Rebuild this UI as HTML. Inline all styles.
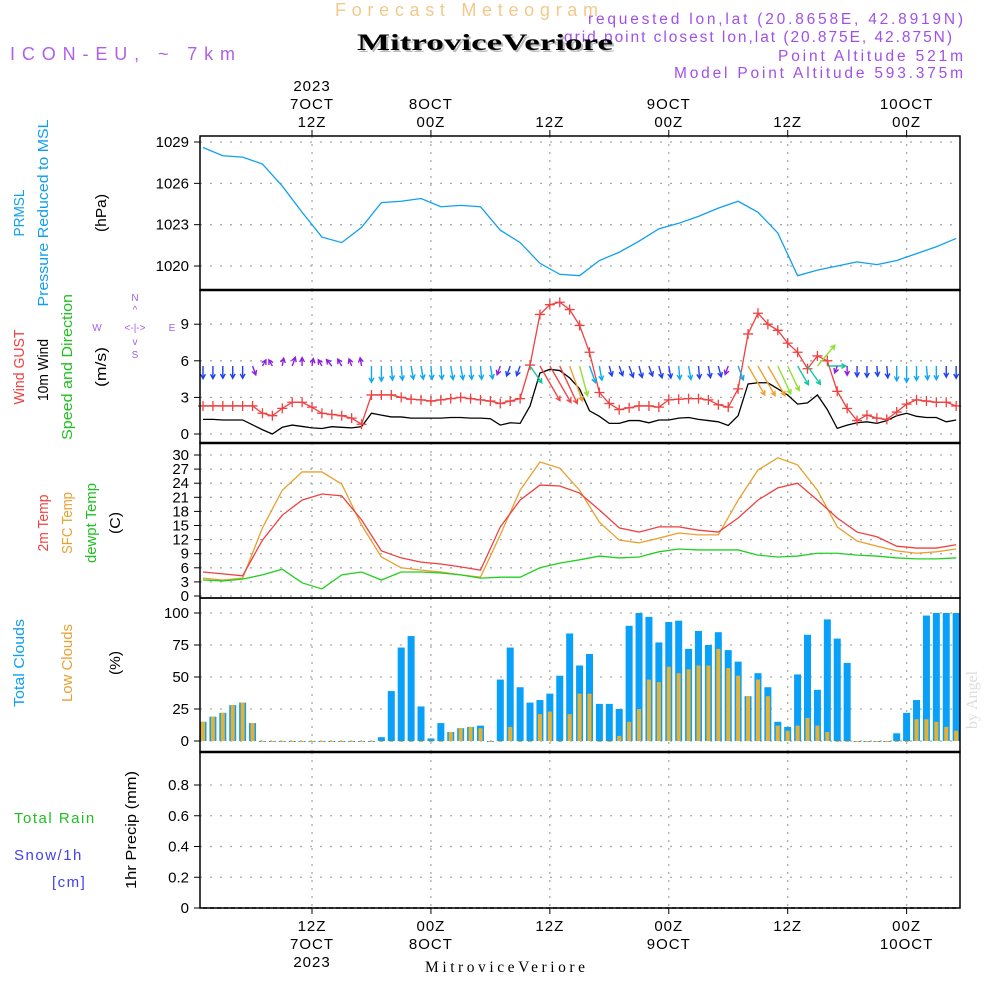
<!DOCTYPE html>
<html><head><meta charset="utf-8"><style>
body{margin:0;background:#fff}
svg{display:block;font-family:"Liberation Sans",sans-serif}
</style></head><body>
<svg id="chart" width="1000" height="1000" viewBox="0 0 1000 1000" xmlns="http://www.w3.org/2000/svg">
<rect width="1000" height="1000" fill="#fff"/>
<text x="335" y="16" textLength="263" lengthAdjust="spacing" font-size="18" fill="#f3c98a">Forecast Meteogram</text>
<text x="952" y="42" text-anchor="end" textLength="388" lengthAdjust="spacing" font-size="15.5" fill="#a050e8">grid point closest lon,lat (20.875E, 42.875N)</text>
<text x="357" y="50" textLength="256" lengthAdjust="spacingAndGlyphs" font-size="23" font-weight="bold" font-family="Liberation Serif,serif" fill="#bbb" transform="translate(2,2)">MitroviceVeriore</text>
<text x="357" y="50" textLength="256" lengthAdjust="spacingAndGlyphs" font-size="23" font-weight="bold" font-family="Liberation Serif,serif" fill="#000">MitroviceVeriore</text>
<text x="963" y="24" text-anchor="end" textLength="375" lengthAdjust="spacing" font-size="15.5" fill="#a050e8">requested lon,lat (20.8658E, 42.8919N)</text>
<text x="963" y="61" text-anchor="end" textLength="185" lengthAdjust="spacing" font-size="15.5" fill="#a050e8">Point Altitude 521m</text>
<text x="963" y="78" text-anchor="end" textLength="289" lengthAdjust="spacing" font-size="15.5" fill="#a050e8">Model Point Altitude 593.375m</text>
<text x="10" y="60" textLength="225" lengthAdjust="spacing" font-size="18" fill="#b060e8">ICON-EU, ~ 7km</text>
<text x="977" y="700" font-size="16" fill="#ddd" font-family="Liberation Serif,serif" transform="rotate(-90 977 700)" text-anchor="middle">by Angel</text>
<g id="grid"></g><g id="marks"></g><g id="frames"></g><g id="labels"></g>
</svg>
<script>
const hours = Array.from({length:77},(_,i)=>i);
const hours2 = Array.from({length:39},(_,i)=>i*2);
const pressure = [1028.6,1028.0,1027.9,1027.4,1025.8,1023.9,1022.1,1021.7,1022.8,1024.6,1024.7,1024.9,1024.3,1024.4,1024.3,1022.6,1021.7,1020.2,1019.4,1019.3,1020.4,1021.0,1021.8,1022.7,1023.1,1023.6,1024.2,1024.7,1023.9,1022.4,1019.3,1019.7,1020.0,1020.3,1020.1,1020.4,1020.9,1021.4,1022.0];
const gust = [2.3,2.3,2.3,2.3,2.3,2.3,1.7,1.5,2.1,2.6,2.6,2.2,1.7,1.6,1.5,1.3,0.8,3.2,3.2,3.2,3.0,2.85,2.8,2.7,2.8,2.9,3.0,2.9,2.8,2.7,2.5,2.7,2.9,5.65,9.8,10.6,10.8,10.2,8.9,6.7,3.4,2.5,2.0,2.15,2.3,2.3,2.2,2.8,2.85,2.9,2.9,2.8,2.4,2.2,3.7,8.2,9.9,9.0,8.5,7.45,6.7,5.35,6.4,6.0,3.5,2.1,1.1,1.55,1.3,1.2,1.8,2.45,2.8,2.7,2.6,2.6,2.3];
const wind = [1.2,1.2,1.15,1.15,1.15,0.75,0.35,0.0,0.55,0.73,0.62,0.5,0.45,0.6,0.55,0.5,0.6,1.7,1.55,1.4,1.4,1.3,1.3,1.3,1.3,1.35,1.35,1.3,1.3,1.25,0.73,0.92,0.87,2.3,5.0,5.3,5.2,4.6,3.7,1.9,1.45,0.87,0.87,1.1,1.1,0.92,1.15,1.15,1.3,1.35,1.2,1.1,1.0,0.7,1.5,4.1,4.2,4.2,3.7,3.2,2.45,2.55,3.2,2.0,0.46,0.73,0.92,1.0,0.87,1.1,1.5,1.7,1.45,1.35,1.35,1.0,1.15];
const windDir = [180,180,180,180,180,160,30,330,10,20,0,10,330,320,330,340,350,180,180,175,175,170,170,175,175,170,170,175,175,170,200,200,200,145,150,150,155,160,165,160,170,165,160,160,165,160,165,170,175,170,175,170,165,200,160,150,150,150,155,155,150,145,40,90,200,180,180,180,175,175,180,180,180,175,180,180,180];
const temp2m = [5.1,4.7,4.3,11.9,17.2,20.4,21.7,21.3,16.2,9.6,8.1,7.2,6.8,6.2,5.5,14.7,20.4,23.6,23.4,21.9,18.3,14.5,13.6,14.7,14.7,14.0,13.6,16.6,20.4,23.0,24.0,20.4,16.6,13.6,12.6,10.6,10.2,10.2,10.9];
const tempSfc = [3.8,3.4,3.8,14.5,22.5,26.4,26.4,23.8,15.1,8.3,6.0,5.5,5.1,4.5,4.0,13.0,22.5,28.5,27.2,22.5,15.7,11.9,11.3,12.3,13.4,13.0,13.0,20.4,26.8,29.4,27.9,22.5,14.7,11.7,10.6,9.6,9.1,9.4,10.0];
const dewpt = [3.4,3.2,3.6,4.5,5.7,2.8,1.5,4.5,5.1,3.4,5.1,5.1,4.9,4.5,3.8,4.0,4.0,6.0,7.0,7.7,8.5,8.1,8.3,9.4,10.0,9.8,9.8,9.8,8.7,8.3,8.5,9.1,9.1,8.7,8.5,8.1,7.9,7.9,8.1];
const totalClouds = [15,19,22,28,30,14,0,0,0,0,0,0,0,0,0,0,0,0,3,39,73,82,27,2,14,7,10,11,12,0,48,73,42,30,32,37,51,84,59,68,29,29,25,90,100,97,77,93,94,72,86,75,85,71,62,35,53,42,15,11,52,83,40,95,80,61,0,0,0,0,6,22,32,98,100,100,100];
const lowClouds = [15,19,22,28,30,14,0,0,0,0,0,0,0,0,0,0,0,0,0,0,0,0,0,0,0,7,10,11,10,0,0,11,0,0,21,23,0,21,37,37,0,0,4,15,25,48,46,58,53,56,59,59,72,57,51,35,48,35,12,8,12,18,12,7,0,0,0,0,0,0,0,0,17,17,15,11,8];
const precip = hours.map(()=>0);
const presTicks = [1020,1023,1026,1029];
const windTicks = [0,3,6,9];
const tempTicks = [0,3,6,9,12,15,18,21,24,27,30];
const cloudTicks = [0,25,50,75,100];
const rainTicks = [0,0.2,0.4,0.6,0.8];
const timeTicks = [11,23,35,47,59,71];
const topLabels = [["2023","7OCT","12Z"],["","8OCT","00Z"],["","","12Z"],["","9OCT","00Z"],["","","12Z"],["","10OCT","00Z"]];
const botLabels = [["12Z","7OCT","2023"],["00Z","8OCT",""],["12Z","",""],["00Z","9OCT",""],["12Z","",""],["00Z","10OCT",""]];

const NS="http://www.w3.org/2000/svg";
const X = h => 203 + 9.91*h;
const yP = v => 142 + (1029-v)*13.78;
const yW = v => 434 - v*12.2;
const yT = v => 596 - v*4.7;
const yC = v => 741 - v*1.28;
const yR = v => 908 - v*153.75;
const L=200,R=960;
const panels=[[136,290],[290,443],[443,598],[598,752],[752,908]];
function el(tag,attrs,parent,txt){const e=document.createElementNS(NS,tag);for(const k in attrs)e.setAttribute(k,attrs[k]);if(txt!==undefined)e.textContent=txt;parent.appendChild(e);return e;}
const G=document.getElementById('grid'),M=document.getElementById('marks'),F=document.getElementById('frames'),Lb=document.getElementById('labels');

panels.forEach(p=>{timeTicks.forEach(h=>{const g=el('line',{x1:X(h),x2:X(h),y1:p[0],y2:p[1],stroke:'#aaa','stroke-width':1.3,'stroke-dasharray':'2,6'},G);

});});
function yaxis(ticks,fy,fmt,name){ticks.forEach(t=>{const y=fy(t);
const g=el('line',{x1:L,x2:R,y1:y,y2:y,stroke:'#aaa','stroke-width':1.3,'stroke-dasharray':'2,8'},G);


el('line',{x1:L-6,x2:L,y1:y,y2:y,stroke:'#000'},F);
const tx=el('text',{x:189,y:y+5,'text-anchor':'end','font-size':15,fill:'#000'},Lb,fmt(t));

});}
yaxis(presTicks,yP,t=>t,'pressure');
yaxis(windTicks,yW,t=>t,'wind');
yaxis(tempTicks,yT,t=>t,'temp');
yaxis(cloudTicks,yC,t=>t,'cloud');
yaxis(rainTicks,yR,t=>t===0?'0':t.toFixed(1),'rain');

function line(xs,ys,color,name,w){const pts=xs.map((x,i)=>x+','+ys[i]).join(' ');const p=el('polyline',{points:pts,fill:'none',stroke:color,'stroke-width':w||1.3},M);

return p;}
line(hours2.map(X),pressure.map(yP),'#10a0f0','pressure-line');
line(hours.map(X),wind.map(yW),'#000','wind-speed-line');
line(hours.map(X),gust.map(yW),'#f04040','wind-gust-line');
gust.forEach((v,i)=>{const x=X(hours[i]),y=yW(v);
const c=el('path',{d:`M${x-5},${y}H${x+5}M${x},${y-5}V${y+5}`,stroke:'#f04040','stroke-width':1.3},M);

});
function wcol(s){return s<0.8?'#9020e0':s<1.25?'#2040f0':s<2?'#10a8f0':s<3?'#10c8a0':s<4?'#90e030':s<5?'#f0a030':'#f04848';}
wind.forEach((s,i)=>{const x=X(hours[i]),y0=366,len=Math.max(7,4+7.2*s),a=windDir[i]*Math.PI/180;
const dx=len*Math.sin(a),dy=-len*Math.cos(a),x1=x+dx,y1=y0+dy;const c=wcol(s);
const ang=Math.atan2(dy,dx),hl=5;
const d=`M${x},${y0}L${x1},${y1}M${x1-hl*Math.cos(ang-0.5)},${y1-hl*Math.sin(ang-0.5)}L${x1},${y1}L${x1-hl*Math.cos(ang+0.5)},${y1-hl*Math.sin(ang+0.5)}`;
const p=el('path',{d:d,stroke:c,'stroke-width':1.4,fill:'none'},M);

});
line(hours2.map(X),tempSfc.map(yT),'#e8a030','sfc-temp-line');
line(hours2.map(X),temp2m.map(yT),'#f04040','2m-temp-line');
line(hours2.map(X),dewpt.map(yT),'#20d020','dewpt-line');
totalClouds.forEach((v,i)=>{const x=X(hours[i]);
const b=el('rect',{x:x-3.5,y:yC(v),width:7,height:Math.max(1,yC(0)-yC(v)),fill:'#08a0f8'},M);


const lv=lowClouds[i];const o=el('rect',{x:x-2,y:yC(lv),width:4,height:Math.max(1,yC(0)-yC(lv)),fill:'#e8b030'},M);

});
const pl=line(hours.map(X),precip.map(yR),'#000','precip-line',1.5);pl.setAttribute('stroke-dasharray','4,3');

panels.forEach((p,i)=>{const r=el('rect',{x:L,y:p[0],width:R-L,height:p[1]-p[0],fill:'none',stroke:'#000','stroke-width':1.5},F);

});
[290,443,752].forEach(y=>el('line',{x1:L,x2:R,y1:y,y2:y,stroke:'#000','stroke-width':2.5},F));
timeTicks.forEach((h,i)=>{const x=X(h);el('line',{x1:x,x2:x,y1:130,y2:136,stroke:'#000'},F);el('line',{x1:x,x2:x,y1:908,y2:914,stroke:'#000'},F);
topLabels[i].forEach((s,j)=>{if(s){const t=el('text',{x:x,y:91+j*18,'text-anchor':'middle','font-size':15,fill:'#000','letter-spacing':1},Lb,s);

}});
botLabels[i].forEach((s,j)=>{if(s){const t=el('text',{x:x,y:931+j*18,'text-anchor':'middle','font-size':15,fill:'#000','letter-spacing':1},Lb,s);

}});});
const ft=el('text',{x:425,y:972,'font-size':15.5,fill:'#000','font-family':'Liberation Serif,serif',textLength:160,lengthAdjust:'spacing'},Lb,'MitroviceVeriore');



function vlab(x,cy,s,col,len,name){const t=el('text',{x:x,y:cy,'text-anchor':'middle','font-size':15,fill:col,transform:`rotate(-90 ${x} ${cy})`},Lb,s);
if(len){t.setAttribute('textLength',len);t.setAttribute('lengthAdjust','spacingAndGlyphs');}

}
vlab(24,213,'PRMSL','#10a0f0',47,'prmsl-label');
vlab(48,213,'Pressure Reduced to MSL','#10a0f0',187,'pressure-label');
vlab(106,213,'(hPa)','#000',38,'hpa-unit');
vlab(24,367,'Wind GUST','#f04040',75,'gust-label');
vlab(48,370,'10m Wind','#000',62,'wind-label');
vlab(72,367,'Speed and Direction','#20c020',146,'speed-dir-label');
vlab(106,367,'(m/s)','#000',40,'ms-unit');
vlab(48,523,'2m Temp','#f04040',57,'temp2m-label');
vlab(72,523,'SFC Temp','#e8a030',62,'sfc-label');
vlab(96,523,'dewpt Temp','#20c020',80,'dewpt-label');
vlab(120,523,'(C)','#000',22,'c-unit');
vlab(24,663,'Total Clouds','#10a0f0',88,'total-cloud-label');
vlab(72,663,'Low Clouds','#e8a030',78,'low-cloud-label');
vlab(120,663,'(%)','#000',24,'pct-unit');
vlab(136,830,'1hr Precip (mm)','#000',118,'precip-unit');
[['Total  Rain',14,823,'#20c020'],['Snow/1h',14,860,'#4040f0'],['[cm]',52,887,'#4040f0']].forEach(a=>{const t=el('text',{x:a[1],y:a[2],'font-size':15,fill:a[3],'letter-spacing':1.5,'xml:space':'preserve'},Lb,a[0]);

});
const cp=[['N',135,301],['S',135,358],['W',97,331],['E',172,331],['<-|->',135,331],['^',135,313],['v',135,345]];
cp.forEach(a=>{const t=el('text',{x:a[1],y:a[2],'text-anchor':'middle','font-size':10,fill:'#a060e8'},Lb,a[0]);

});
</script>
</body></html>
